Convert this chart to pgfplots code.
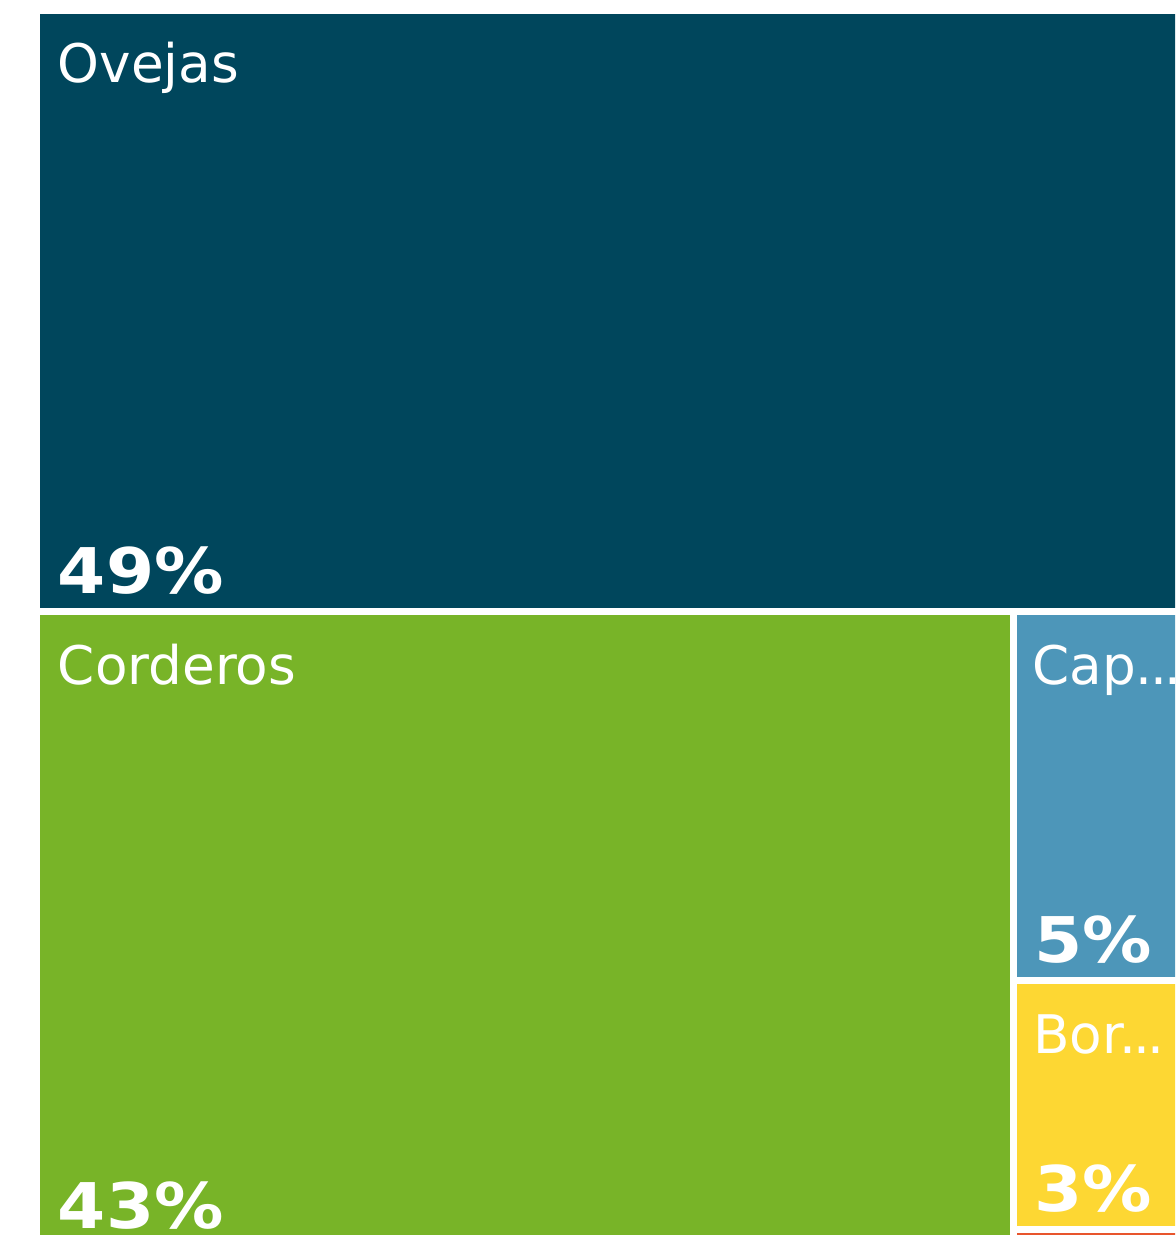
\documentclass[border=0pt]{standalone}
\usepackage{fontspec}
\setmainfont{DejaVu Sans}
\usepackage{pgfplots}
\pgfplotsset{compat=1.18}

\definecolor{ovejas}{HTML}{00465C}
\definecolor{corderos}{HTML}{78B428}
\definecolor{caprino}{HTML}{4D96B9}
\definecolor{borregos}{HTML}{FDD733}
\definecolor{otros}{HTML}{E8552D}

\newcommand{\lbl}{\fontsize{26.6}{30}\selectfont}
\newcommand{\pct}[1]{\scalebox{1.1}[1]{\fontsize{31.5}{36}\selectfont\bfseries #1}}
\newcommand{\cut}{.\kern-1.4pt.\kern-1.4pt.}
\tikzset{lab/.style={text=white, inner sep=0pt, anchor=base west}}

\begin{document}
\begin{tikzpicture}
\begin{axis}[
    name=tm,
    width=587.5pt, height=617.5pt,
    scale only axis,
    hide axis,
    xmin=0, xmax=1175,
    ymin=0, ymax=1235,
    y dir=reverse,
    clip=true,
]
% tiles, pixel grid of the reference (y downwards)
\addplot[fill=ovejas, draw=none] coordinates {(40,14) (1200,14) (1200,608) (40,608)} -- cycle;
\addplot[fill=corderos, draw=none] coordinates {(40,615) (1010,615) (1010,1245) (40,1245)} -- cycle;
\addplot[fill=caprino, draw=none] coordinates {(1017,615) (1200,615) (1200,977) (1017,977)} -- cycle;
\addplot[fill=borregos, draw=none] coordinates {(1017,984) (1200,984) (1200,1226) (1017,1226)} -- cycle;
\addplot[fill=otros, draw=none] coordinates {(1017,1233) (1200,1233) (1200,1260) (1017,1260)} -- cycle;

\node[lab] at (axis cs:57.5,83) {\lbl Ovejas};
\node[lab] at (axis cs:57.5,593) {\pct{49\%}};
\node[lab] at (axis cs:57.5,684) {\lbl Corderos};
\node[lab] at (axis cs:57.5,1228) {\pct{43\%}};
\node[lab] at (axis cs:1032,684) {\lbl Cap\cut};
\node[lab] at (axis cs:1034,962) {\pct{5\%}};
\node[lab] at (axis cs:1033,1053) {\lbl Bor\cut};
\node[lab] at (axis cs:1034,1211) {\pct{3\%}};
\end{axis}
\pgfresetboundingbox
\path[use as bounding box] (tm.south west) rectangle (tm.north east);
\end{tikzpicture}
\end{document}
